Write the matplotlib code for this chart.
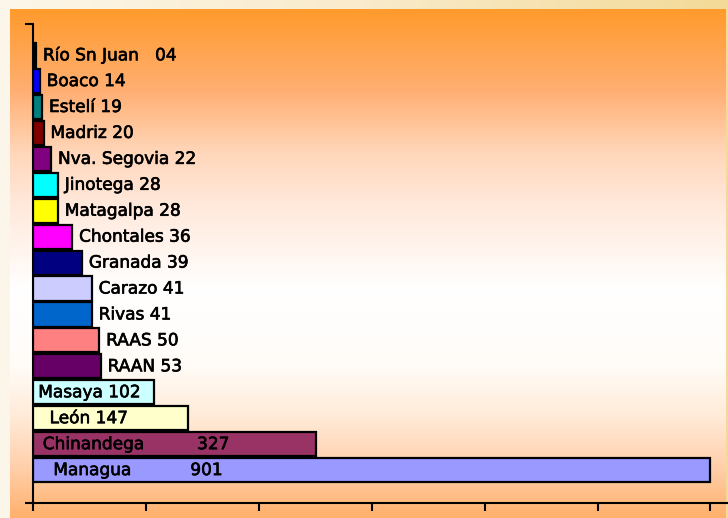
import numpy as np
import matplotlib
matplotlib.use("Agg")
import matplotlib.pyplot as plt
import matplotlib.patheffects as pe
from matplotlib.colors import LinearSegmentedColormap

# departamentos (de abajo hacia arriba)
departamentos = ["Managua", "Chinandega", "León", "Masaya", "RAAN", "RAAS", "Rivas",
                 "Carazo", "Granada", "Chontales", "Matagalpa", "Jinotega",
                 "Nva. Segovia", "Madriz", "Estelí", "Boaco", "Río Sn Juan"]
# valores que aparecen en las etiquetas
valores = ["901", "327", "147", "102", "53", "50", "41", "41", "39", "36", "28", "28",
           "22", "20", "19", "14", "04"]
# largo de las barras tal como se ven en el grafico
largo_barra = [899, 376, 206, 161, 90, 88, 78, 78, 65, 52, 33, 33, 24, 14, 12, 9, 4]
colores = ["#9999FF", "#993366", "#FFFFCC", "#CCFFFF", "#660066", "#FF8080", "#0066CC",
           "#CCCCFF", "#000080", "#FF00FF", "#FFFF00", "#00FFFF", "#800080", "#800000",
           "#008080", "#0000FF", "#000000"]

fig = plt.figure(figsize=(7.28, 5.18), dpi=100)

# marco exterior crema
bg = fig.add_axes([0, 0, 1, 1], zorder=-2)
marco = LinearSegmentedColormap.from_list("marco", ["#FCF7EA", "#F9EBCB", "#F3DA98"])
bg.imshow(np.linspace(0, 1, 256)[None, :], aspect="auto", cmap=marco, extent=[0, 1, 0, 1])
bg.set_xlim(0, 1)
bg.set_ylim(0, 1)
bg.axis("off")

# panel con degradado naranja (de abajo hacia arriba)
panel = fig.add_axes([10 / 728, 0, 716 / 728, 509 / 518], zorder=-1)
degradado = LinearSegmentedColormap.from_list(
    "naranja", [(0.0, "#FFB06C"), (0.1, "#FFD0AC"), (0.2, "#FFEBD8"), (0.3, "#FFFCF8"),
                (0.45, "#FFFFFF"), (0.62, "#FFE8DA"), (0.72, "#FFD6B9"), (0.78, "#FFC396"),
                (0.84, "#FFAF73"), (0.92, "#FFA550"), (1.0, "#FF9A2C")])
panel.imshow(np.linspace(0, 1, 256)[:, None], aspect="auto", cmap=degradado,
             origin="lower", extent=[0, 1, 0, 1])
panel.set_xlim(0, 1)
panel.set_ylim(0, 1)
panel.axis("off")

ax = fig.add_axes([33 / 728, 15 / 518, 694 / 728, 479 / 518])
ax.patch.set_alpha(0)

y = np.arange(len(departamentos))
ax.barh(y, largo_barra, height=0.93, color=colores, edgecolor="black", linewidth=1.6, zorder=3)

# etiquetas: las grandes van dentro de la barra
dentro = {"Masaya": (7, None), "León": (22, None), "Chinandega": (13, 218), "Managua": (27, 209)}
grueso = [pe.withStroke(linewidth=0.45, foreground="black")]
fuente = dict(fontsize=12.2, color="black", va="center", family="DejaVu Sans", zorder=4,
              path_effects=grueso)
for i, (nombre, val) in enumerate(zip(departamentos, valores)):
    if nombre in dentro:
        x_nombre, x_valor = dentro[nombre]
        if x_valor is None:
            ax.text(x_nombre, y[i], nombre + " " + val, **fuente)
        else:
            ax.text(x_nombre, y[i], nombre, **fuente)
            ax.text(x_valor, y[i], val, **fuente)
    else:
        sep = "   " if nombre == "Río Sn Juan" else " "
        ax.annotate(nombre + sep + val, (largo_barra[i], y[i]), xytext=(5, 0),
                    textcoords="offset points", **fuente)

ax.set_xlim(0, 922)
ax.set_ylim(-1.27, 17.2)
ax.set_xticks(np.arange(0, 901, 150))
ax.set_xticklabels([])
ax.set_yticks([-1.27, 17.2])
ax.set_yticklabels([])
ax.tick_params(axis="both", direction="out", length=6, width=1.5, color="black")
for lado in ["top", "right"]:
    ax.spines[lado].set_visible(False)
for lado in ["left", "bottom"]:
    ax.spines[lado].set_linewidth(1.5)

fig.savefig("out.png", dpi=100)
plt.close(fig)
